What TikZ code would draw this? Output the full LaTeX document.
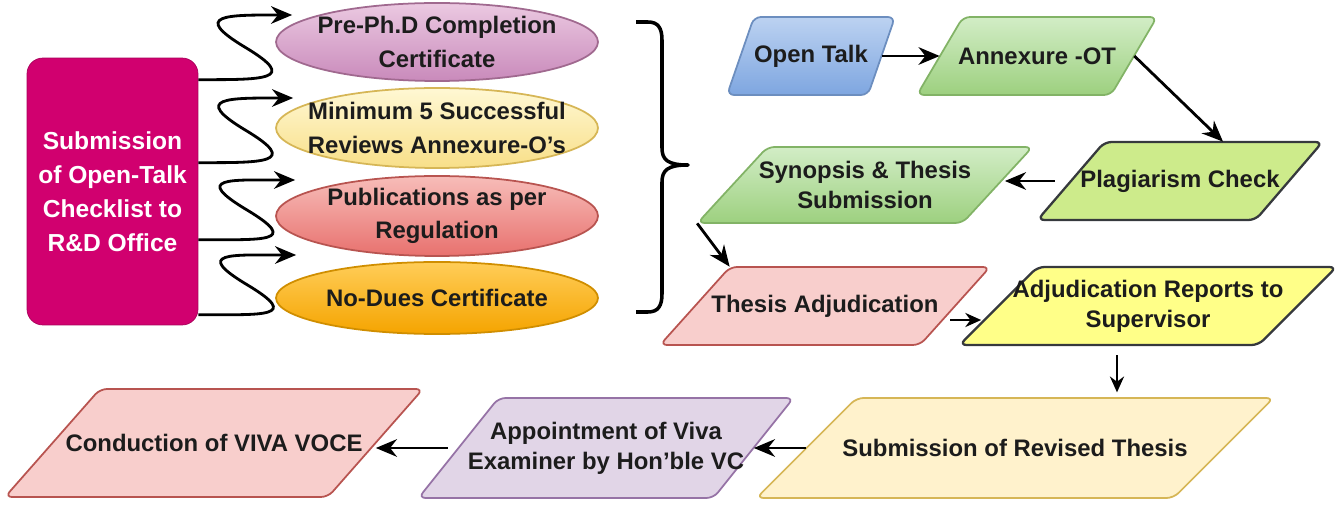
\documentclass[tikz,border=0pt]{standalone}
\usepackage{fontspec}
\setmainfont{Liberation Sans}
\usetikzlibrary{arrows.meta,calc,shapes.geometric}

\definecolor{rdpink}{HTML}{D1006F}
\definecolor{rdedge}{HTML}{A8005A}
\definecolor{txtdark}{HTML}{1C1C1C}
\definecolor{pretop}{HTML}{EBC9E1}
\definecolor{prebot}{HTML}{C98ABB}
\definecolor{preedge}{HTML}{A0698F}
\definecolor{rvwtop}{HTML}{FFF8D4}
\definecolor{rvwbot}{HTML}{F8DF88}
\definecolor{rvwedge}{HTML}{D6B656}
\definecolor{pubtop}{HTML}{F7BDB9}
\definecolor{pubbot}{HTML}{E8716E}
\definecolor{pubedge}{HTML}{B85450}
\definecolor{duetop}{HTML}{FFCD58}
\definecolor{duebot}{HTML}{F5A400}
\definecolor{dueedge}{HTML}{D08E00}
\definecolor{ottop}{HTML}{BCD2F1}
\definecolor{otbot}{HTML}{7EA6E0}
\definecolor{otedge}{HTML}{6C8EBF}
\definecolor{grntop}{HTML}{D2EDC6}
\definecolor{grnbot}{HTML}{9DD07F}
\definecolor{grnedge}{HTML}{82B366}
\definecolor{plagfill}{HTML}{CDEB8B}
\definecolor{darkedge}{HTML}{36393D}
\definecolor{pinkfill}{HTML}{F8CECC}
\definecolor{pinkedge}{HTML}{B85450}
\definecolor{yelfill}{HTML}{FFFF88}
\definecolor{creamfill}{HTML}{FFF2CC}
\definecolor{creamedge}{HTML}{D6B656}
\definecolor{lilacfill}{HTML}{E1D5E7}
\definecolor{lilacedge}{HTML}{9673A6}

\newcommand{\slantbox}[7]{% parallelogram #1 centred at (#2): full width #3, height #4, slant #5 (px)
  \pgfmathsetmacro\sbw{(#3-#5)*0.02}
  \pgfmathsetmacro\sbh{#4*0.02}
  \draw[#6, rounded corners=4pt]
    ($(#2)+({-#3/2},{#4/2})$) -- ($(#2)+({-#3/2+#5},{-#4/2})$)
    -- ($(#2)+({#3/2},{-#4/2})$) -- ($(#2)+({#3/2-#5},{#4/2})$) -- cycle;
  \node[boxtext, minimum width=\sbw cm, minimum height=\sbh cm] (#1) at (#2) {#7};
}

\begin{document}
\begin{tikzpicture}[x=0.02cm, y=-0.02cm,
  boxtext/.style={inner sep=0pt, align=center, text=txtdark, font=\bfseries\fontsize{13.6}{17}\selectfont},
  ovaltext/.style={inner sep=0pt, align=center, text=txtdark, font=\bfseries\fontsize{13.6}{19}\selectfont},
  oval/.style={ellipse, line width=1pt, minimum width=6.44cm, inner sep=0pt},
  arr/.style={line width=1.6pt, -{Stealth[length=12pt,width=10pt]}},
  smallarr/.style={line width=1.5pt, -{Stealth[length=9pt,width=8pt]}},
  curl/.style={to path={.. controls +(65,0) and +(55,33) .. ($(\tikztostart)!.5!(\tikztotarget)$) .. controls +(-55,-33) and +(-65,0) .. (\tikztotarget)}}]
  \useasboundingbox (0,0) rectangle (1340,506);

  % checklist box and the four requirements
  \node[fill=rdpink, draw=rdedge, rounded corners=9pt, minimum width=3.42cm, minimum height=5.34cm,
    text=white, align=center, font=\bfseries\fontsize{14}{19.3}\selectfont] (otc) at (112.5,191.5)
    {Submission\\of Open-Talk\\Checklist to\\R\&D Office};
  \node[oval, minimum height=1.56cm, draw=preedge, top color=pretop, bottom color=prebot] (pre) at (437,42) {};
  \node[ovaltext] (pre-t) at (pre) {Pre-Ph.D Completion\\Certificate};
  \node[oval, minimum height=1.6cm, draw=rvwedge, top color=rvwtop, bottom color=rvwbot] (rvw) at (437,128) {};
  \node[ovaltext] (rvw-t) at (rvw) {Minimum 5 Successful\\Reviews Annexure-O's};
  \node[oval, minimum height=1.6cm, draw=pubedge, top color=pubtop, bottom color=pubbot] (pub) at (437,216) {};
  \node[ovaltext] (pub-t) at (pub) {Publications as per\\Regulation};
  \node[oval, minimum height=1.44cm, draw=dueedge, top color=duetop, bottom color=duebot] (dues) at (437,298) {};
  \node[ovaltext] (dues-t) at (dues) {No-Dues Certificate};
  \foreach \s/\e/\dx/\dy in {22/pre/17/-27, 105/rvw/18/-30, 182/pub/20/-36, 257/dues/21/-43}
    \draw[arr] ($(otc.north east)+(0,\s)$) to[curl] ($(\e.west)+(\dx,\dy)$);

  % brace
  \draw[line width=2pt, line join=round]
    (636,22) -- (648,22) .. controls (658,22) and (662,28) .. (662,40) -- (662,148)
    .. controls (662,160) and (668,165) .. (688,165)
    .. controls (668,165) and (662,170) .. (662,182) -- (662,294)
    .. controls (662,306) and (658,312) .. (648,312) -- (636,312);

  % flow of steps
  \slantbox{ot}{811,56}{168}{78}{27}{draw=otedge, line width=1pt, top color=ottop, bottom color=otbot}{Open Talk}
  \slantbox{anx}{1037,56}{240}{78}{46}{draw=grnedge, line width=1pt, top color=grntop, bottom color=grnbot}{Annexure -OT}
  \slantbox{plag}{1180,181}{285}{78}{67}{draw=darkedge, line width=1.3pt, fill=plagfill}{Plagiarism Check}
  \slantbox{syn}{865,185}{335}{76}{70}{draw=grnedge, line width=1pt, top color=grntop, bottom color=grnbot}{Synopsis \& Thesis\\Submission}
  \slantbox{thadj}{825,306}{330}{78}{70}{draw=pinkedge, line width=1pt, fill=pinkfill}{Thesis Adjudication}
  \slantbox{adj}{1148,306}{377}{78}{78}{draw=darkedge, line width=1.3pt, fill=yelfill}{Adjudication Reports to\\Supervisor}
  \slantbox{rev}{1015,448}{517}{100}{100}{draw=creamedge, line width=1pt, fill=creamfill}{Submission of Revised Thesis}
  \slantbox{appt}{606,448}{375}{100}{80}{draw=lilacedge, line width=1pt, fill=lilacfill}{Appointment of Viva\\Examiner by Hon'ble VC}
  \slantbox{cond}{214,443}{418}{108}{95}{draw=pinkedge, line width=1pt, fill=pinkfill}{Conduction of VIVA VOCE}

  \draw[arr] (ot.east) -- (anx.west);
  \draw[arr] (anx.east) -- ($(plag.north)+(43,0)$);
  \draw[arr, shorten <=9pt, shorten >=4pt] (plag.west) -- (plag.west -| syn.east);
  \draw[arr] ($(syn.south west)+(-35,0)$) -- ($(thadj.north west)+(35,0)$);
  \draw[smallarr] ($(thadj.east)+(-5,14)$) -- ($(adj.west)+(-17,14)$);
  \coordinate (drop) at ($(adj.south)+(-31,10)$);
  \draw[smallarr, shorten >=3pt] (drop) -- (drop |- rev.north);
  \draw[arr] (rev.west) -- (appt.east);
  \draw[arr, shorten <=6pt] (appt.west) -- (appt.west -| cond.east);
\end{tikzpicture}
\end{document}
